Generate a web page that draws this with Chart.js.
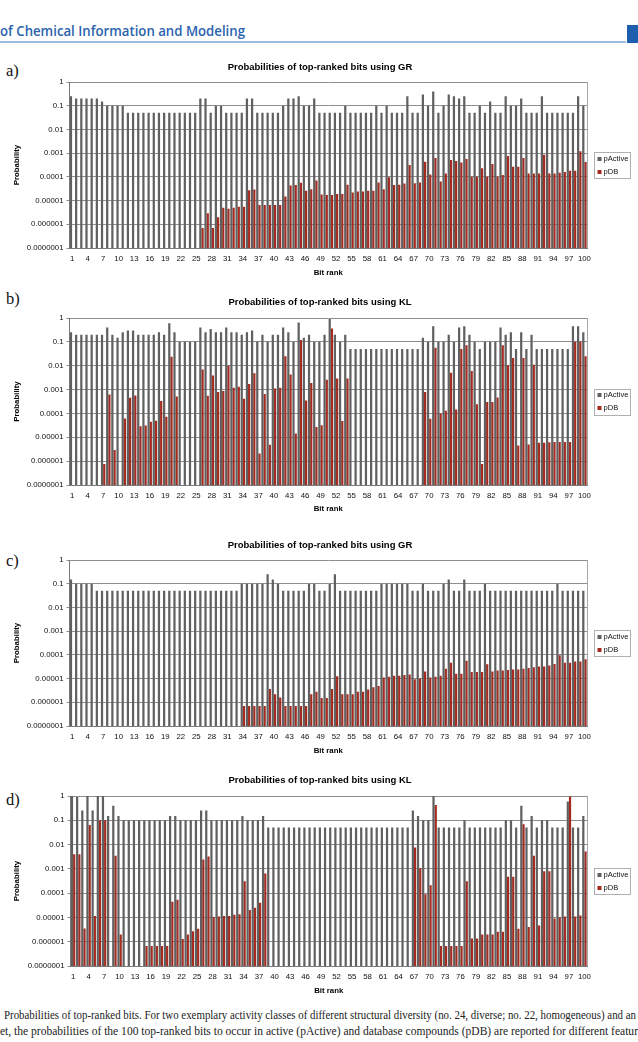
<!DOCTYPE html>
<html><head><meta charset="utf-8">
<script src="https://cdn.jsdelivr.net/npm/chart.js@4.4.1/dist/chart.umd.min.js"></script>
<style>
html,body{margin:0;padding:0;background:#fff}
body{width:638px;height:1042px;overflow:hidden;position:relative}
.t{position:absolute;white-space:nowrap;transform-origin:0 0;line-height:1.2}
.lab{font:16.5px "Liberation Serif";color:#111}
.cap{font:11.5px "Liberation Serif";color:#222}
canvas{position:absolute;left:0}
</style></head><body>
<div id="hdr" class="t" style="font:600 14px 'Open Sans';color:#2a62ad"><span class="fit">of Chemical Information and Modeling</span></div>
<div style="position:absolute;left:0;top:41px;width:626px;height:2px;background:#9cb9df"></div>
<div style="position:absolute;left:627px;top:25px;width:11px;height:18px;background:#1d5eae"></div>
<div id="la" class="t lab">a)</div>
<div id="lb" class="t lab">b)</div>
<div id="lc" class="t lab">c)</div>
<div id="ld" class="t lab">d)</div>
<canvas id="cA"></canvas>
<canvas id="cB"></canvas>
<canvas id="cC"></canvas>
<canvas id="cD"></canvas>
<div id="cap1" class="t cap"><span class="fit">Probabilities of top-ranked bits. For two exemplary activity classes of different structural diversity (no. 24, diverse; no. 22, homogeneous) and an</span></div>
<div id="cap2" class="t cap"><span class="fit">et, the probabilities of the 100 top-ranked bits to occur in active (pActive) and database compounds (pDB) are reported for different featur</span>e</div>
<script>
// ---------------- data ----------------
const bitRanks = Array.from({length:100}, (_, i) => String(i + 1));
const yTickValues = [1e-7, 1e-6, 1e-5, 1e-4, 1e-3, 1e-2, 1e-1, 1];
const yTickLabels = ['0.0000001','0.000001','0.00001','0.0001','0.001','0.01','0.1','1'];
const seriesNames = ['pActive', 'pDB'];
const titleGR = 'Probabilities of top-ranked bits using GR';
const titleKL = 'Probabilities of top-ranked bits using KL';
const xTitle = 'Bit rank';
const yTitle = 'Probability';

const pActiveA = [0.25,0.2,0.2,0.2,0.2,0.2,0.15,0.1,0.1,0.1,
 0.1,0.05,0.05,0.05,0.05,0.05,0.05,0.05,0.05,0.05,
 0.05,0.05,0.05,0.05,0.05,0.2,0.2,0.05,0.1,0.1,
 0.05,0.05,0.05,0.05,0.2,0.2,0.05,0.05,0.05,0.05,
 0.05,0.1,0.2,0.2,0.25,0.1,0.1,0.2,0.05,0.05,
 0.05,0.05,0.05,0.1,0.05,0.05,0.05,0.05,0.05,0.1,
 0.05,0.1,0.05,0.05,0.05,0.25,0.05,0.05,0.3,0.1,
 0.4,0.05,0.1,0.3,0.25,0.2,0.25,0.05,0.05,0.1,
 0.05,0.15,0.05,0.05,0.25,0.1,0.1,0.2,0.05,0.05,
 0.05,0.25,0.05,0.05,0.05,0.05,0.05,0.05,0.25,0.1];
const pDbA = [null,null,null,null,null,null,null,null,null,null,
 null,null,null,null,null,null,null,null,null,null,
 null,null,null,null,null,7e-7,2.9e-6,7e-7,2e-6,5e-6,
 4.5e-6,5e-6,5.5e-6,5.5e-6,2.7e-5,2.9e-5,6.5e-6,6.5e-6,6.5e-6,6.5e-6,
 6.5e-6,1.5e-5,4.3e-5,4.5e-5,5.7e-5,2.6e-5,3e-5,7e-5,1.8e-5,1.7e-5,
 1.7e-5,1.9e-5,1.9e-5,4.6e-5,2.2e-5,2.4e-5,2.4e-5,2.6e-5,2.6e-5,5.8e-5,
 3e-5,9.7e-5,4.5e-5,4.7e-5,5.2e-5,3.2e-4,5.4e-5,5.8e-5,4.3e-4,1.26e-4,
 6.2e-4,6.3e-5,1.4e-4,5.2e-4,4.7e-4,4e-4,5.6e-4,1e-4,1e-4,2.3e-4,
 1e-4,3.5e-4,1e-4,1.2e-4,7.5e-4,2.7e-4,2.7e-4,6.2e-4,1.4e-4,1.4e-4,
 1.4e-4,8.5e-4,1.4e-4,1.4e-4,1.5e-4,1.6e-4,1.8e-4,1.8e-4,1.2e-3,4.2e-4];

const pActiveB = [0.25,0.2,0.2,0.2,0.2,0.2,0.2,0.4,0.2,0.15,
 0.25,0.3,0.3,0.2,0.2,0.2,0.2,0.25,0.2,0.6,
 0.25,0.1,0.1,0.1,0.1,0.4,0.25,0.35,0.25,0.25,
 0.4,0.25,0.25,0.2,0.25,0.3,0.1,0.2,0.1,0.2,
 0.2,0.4,0.25,0.1,0.65,0.15,0.2,0.1,0.1,0.2,
 0.9,0.2,0.1,0.2,0.05,0.05,0.05,0.05,0.05,0.05,
 0.05,0.05,0.05,0.05,0.05,0.05,0.05,0.05,0.15,0.1,
 0.45,0.1,0.1,0.2,0.1,0.4,0.45,0.2,0.1,0.05,
 0.1,0.1,0.1,0.4,0.2,0.25,0.05,0.25,0.05,0.2,
 0.05,0.05,0.05,0.05,0.05,0.05,0.05,0.45,0.45,0.25];
const pDbB = [null,null,null,null,null,null,7.6e-7,6.2e-4,2.9e-6,null,
 6.2e-5,4.5e-4,5.6e-4,2.9e-5,3.1e-5,4.5e-5,4.9e-5,3.3e-4,7.2e-5,0.024,
 5.1e-4,null,null,null,null,7e-3,5.5e-4,3.9e-3,8e-4,8.8e-4,
 0.01,1.2e-3,1.3e-3,4.1e-4,1.7e-3,4.8e-3,2.1e-6,6.6e-4,4.9e-6,1.1e-3,
 1.2e-3,0.025,4.3e-3,1.45e-5,0.12,3.5e-4,1.9e-3,2.7e-5,3.2e-5,2.6e-3,
 0.36,2.9e-3,4.8e-5,2.9e-3,null,null,null,null,null,null,
 null,null,null,null,null,null,null,null,8e-4,6e-5,
 0.057,1e-4,1.3e-4,5.1e-3,1.45e-4,0.05,0.072,6e-3,2.4e-4,7.6e-7,
 3e-4,3e-4,4.6e-4,0.072,0.0105,0.021,4.5e-6,0.021,5e-6,0.011,
 5.9e-6,5.9e-6,6.2e-6,6.3e-6,6.3e-6,6.3e-6,6.3e-6,0.1,0.1,0.025];

const pActiveC = [0.15,0.1,0.1,0.1,0.1,0.05,0.05,0.05,0.05,0.05,
 0.05,0.05,0.05,0.05,0.05,0.05,0.05,0.05,0.05,0.05,
 0.05,0.05,0.05,0.05,0.05,0.05,0.05,0.05,0.05,0.05,
 0.05,0.05,0.05,0.1,0.1,0.1,0.1,0.1,0.25,0.15,
 0.1,0.05,0.05,0.05,0.05,0.05,0.1,0.1,0.05,0.05,
 0.1,0.25,0.05,0.05,0.05,0.05,0.05,0.05,0.05,0.05,
 0.1,0.1,0.1,0.1,0.1,0.1,0.05,0.05,0.1,0.05,
 0.05,0.05,0.1,0.15,0.05,0.05,0.15,0.05,0.05,0.05,
 0.1,0.05,0.05,0.05,0.05,0.05,0.05,0.05,0.05,0.05,
 0.05,0.05,0.05,0.05,0.1,0.05,0.05,0.05,0.05,0.05];
const pDbC = [null,null,null,null,null,null,null,null,null,null,
 null,null,null,null,null,null,null,null,null,null,
 null,null,null,null,null,null,null,null,null,null,
 null,null,null,7e-7,7e-7,7e-7,7e-7,7e-7,3.6e-6,2.2e-6,
 1.6e-6,7e-7,7e-7,7e-7,7e-7,7e-7,2.2e-6,2.8e-6,1.5e-6,1.5e-6,
 3.6e-6,1.26e-5,2.2e-6,2.2e-6,2.2e-6,2.8e-6,2.8e-6,3.5e-6,4.3e-6,4.9e-6,
 1.1e-5,1.2e-5,1.3e-5,1.3e-5,1.4e-5,1.5e-5,9.3e-6,1e-5,2e-5,1.1e-5,
 1.2e-5,1.3e-5,2.6e-5,4.6e-5,1.6e-5,1.6e-5,5.6e-5,1.9e-5,1.9e-5,1.9e-5,
 4e-5,2e-5,2.2e-5,2.2e-5,2.3e-5,2.4e-5,2.4e-5,2.6e-5,2.8e-5,3e-5,
 3.2e-5,3.2e-5,3.6e-5,4.1e-5,9.7e-5,4.6e-5,4.6e-5,5.2e-5,5.2e-5,6.6e-5];

const pActiveD = [1,0.9,0.25,1,0.25,1,1,0.15,0.4,0.15,
 0.1,0.1,0.1,0.1,0.1,0.1,0.1,0.1,0.1,0.15,
 0.15,0.1,0.1,0.1,0.1,0.25,0.25,0.1,0.1,0.1,
 0.1,0.1,0.1,0.15,0.1,0.1,0.1,0.15,0.05,0.05,
 0.05,0.05,0.05,0.05,0.05,0.05,0.05,0.05,0.05,0.05,
 0.05,0.05,0.05,0.05,0.05,0.05,0.05,0.05,0.05,0.05,
 0.05,0.05,0.05,0.05,0.05,0.05,0.25,0.15,0.1,0.1,
 1,0.05,0.05,0.05,0.05,0.05,0.1,0.05,0.05,0.05,
 0.05,0.05,0.05,0.05,0.1,0.1,0.05,0.4,0.05,0.15,
 0.05,0.1,0.1,0.05,0.05,0.05,0.6,0.05,0.05,0.15];
const pDbD = [4e-3,4e-3,3.5e-6,0.064,1.15e-5,0.1,0.1,null,3.5e-3,2e-6,
 null,null,null,null,6.6e-7,6.6e-7,6.6e-7,6.6e-7,6.6e-7,4.4e-5,
 5.3e-5,1.3e-6,2e-6,2.7e-6,3.4e-6,2.4e-3,3.2e-3,1.05e-5,1.1e-5,1.15e-5,
 1.15e-5,1.3e-5,1.35e-5,3.1e-4,2e-5,2.5e-5,4e-5,6.5e-4,null,null,
 null,null,null,null,null,null,null,null,null,null,
 null,null,null,null,null,null,null,null,null,null,
 null,null,null,null,null,null,7.6e-3,1.05e-3,9e-5,2.1e-4,
 0.43,6.6e-7,6.6e-7,6.6e-7,6.6e-7,6.6e-7,3.1e-4,1.35e-6,1.35e-6,2e-6,
 2e-6,2e-6,2.6e-6,2.6e-6,4.7e-4,4.7e-4,3.4e-6,0.068,4e-6,3.5e-3,
 4.7e-6,8e-4,8e-4,9e-6,1e-5,1.1e-5,0.95,1.1e-5,1.2e-5,5.2e-3];

// ---------------- layout / style ----------------
const GRAY = '#606060', RED = '#a52b20';
const panels = [
  {id:'cA', title:titleGR, act:pActiveA, db:pDbA, plotTop:82, plotBottom:248, plotLeft:69.5, titleY:67.5, rankY:273},
  {id:'cB', title:titleKL, act:pActiveB, db:pDbB, plotTop:318, plotBottom:485, plotLeft:69.5, titleY:302, rankY:509},
  {id:'cC', title:titleGR, act:pActiveC, db:pDbC, plotTop:560, plotBottom:726, plotLeft:69.5, titleY:545, rankY:751},
  {id:'cD', title:titleKL, act:pActiveD, db:pDbD, plotTop:796, plotBottom:966, plotLeft:70.5, titleY:780, rankY:991}
];
const PAD_TOP = 32, X_AXIS_H = 32, PLOT_RIGHT = 587, W = 638;
const FONT = '"Liberation Sans", Arial, sans-serif';
Chart.defaults.font.family = FONT;
Chart.defaults.color = '#111';

function makeDecor(spec, canvasTop){
  return {
    id:'decor',
    afterDraw(chart){
      const ctx = chart.ctx, a = chart.chartArea;
      ctx.save();
      ctx.strokeStyle = '#a8a8a8'; ctx.lineWidth = 1;
      const rx = Math.round(a.right) + 0.5;
      ctx.beginPath(); ctx.moveTo(rx, a.top); ctx.lineTo(rx, a.bottom); ctx.stroke();
      ctx.fillStyle = '#000';
      ctx.textAlign = 'center'; ctx.textBaseline = 'middle';
      ctx.font = 'bold 9.5px ' + FONT;
      ctx.fillText(spec.title, 320, spec.titleY - canvasTop);
      ctx.font = 'bold 7.8px ' + FONT;
      ctx.fillText(xTitle, (a.left + a.right) / 2, spec.rankY - canvasTop);
      ctx.save();
      ctx.translate(17, (a.top + a.bottom) / 2); ctx.rotate(-Math.PI / 2);
      ctx.fillText(yTitle, 0, 0);
      ctx.restore();
      // legend
      const cy = (a.top + a.bottom) / 2;
      ctx.strokeStyle = '#b0b0b0';
      ctx.strokeRect(594.5, Math.round(cy - 13) + 0.5, 36, 26);
      ctx.font = '7.6px ' + FONT; ctx.textAlign = 'left';
      chart.data.datasets.forEach((ds, i) => {
        const yy = cy + (i === 0 ? -6.5 : 6.5);
        ctx.fillStyle = ds.backgroundColor;
        ctx.fillRect(597.5, Math.round(yy - 2), 4, 4);
        ctx.fillStyle = '#111';
        ctx.fillText(ds.label, 603.5, yy);
      });
      ctx.restore();
    }
  };
}

panels.forEach(spec => {
  const cv = document.getElementById(spec.id);
  const top = spec.plotTop - PAD_TOP;
  const h = spec.plotBottom - spec.plotTop + PAD_TOP + X_AXIS_H;
  cv.width = W; cv.height = h;
  cv.style.top = top + 'px'; cv.style.width = W + 'px'; cv.style.height = h + 'px';
  new Chart(cv, {
    type:'bar',
    data:{
      labels: bitRanks,
      datasets:[
        {label: seriesNames[0], data: spec.act, backgroundColor: GRAY, borderWidth:0, categoryPercentage:0.86, barPercentage:1},
        {label: seriesNames[1], data: spec.db, backgroundColor: RED, borderWidth:0, categoryPercentage:0.86, barPercentage:1}
      ]
    },
    options:{
      responsive:false, animation:false, devicePixelRatio:1,
      layout:{padding:{left:0, right:W - PLOT_RIGHT, top:PAD_TOP, bottom:0}},
      plugins:{legend:{display:false}, title:{display:false}, tooltip:{enabled:false}},
      scales:{
        x:{
          grid:{display:false, drawTicks:false},
          border:{display:true, color:'#7a7a7a'},
          ticks:{autoSkip:false, maxRotation:0, minRotation:0, padding:6,
                 font:{size:7.8}, color:'#111',
                 callback:(v, i) => (i % 3 === 0 ? bitRanks[i] : '')},
          afterFit:s => { s.height = X_AXIS_H; }
        },
        y:{
          type:'logarithmic', min:1e-7, max:1,
          afterBuildTicks: ax => { ax.ticks = yTickValues.map(v => ({value:v})); },
          grid:{color:'#8e8e8e', tickLength:3, drawTicks:true},
          border:{display:true, color:'#7a7a7a'},
          ticks:{padding:3, font:{size:7.8}, color:'#111',
                 callback:(v) => yTickLabels[yTickValues.indexOf(v)]},
          afterFit:s => { s.width = spec.plotLeft; }
        }
      }
    },
    plugins:[makeDecor(spec, top)]
  });
});

// ---------------- page texts ----------------
function placeText(id, x, baseline, fitWidth){
  const el = document.getElementById(id);
  el.style.left = x + 'px'; el.style.top = '0px'; el.style.transform = 'none';
  const probe = document.createElement('span');
  probe.style.cssText = 'display:inline-block;width:0;height:0;vertical-align:baseline';
  el.appendChild(probe);
  const b = probe.getBoundingClientRect().top - el.getBoundingClientRect().top;
  el.removeChild(probe);
  el.style.top = (baseline - b) + 'px';
  if (fitWidth){
    const f = el.querySelector('.fit');
    const w = f.getBoundingClientRect().width;
    el.style.transform = 'scaleX(' + (fitWidth / w) + ')';
  }
}
function layoutTexts(){
  placeText('hdr', 0, 35.7, 245);
  placeText('la', 6, 75.5);
  placeText('lb', 6, 303.5);
  placeText('lc', 6, 565.5);
  placeText('ld', 6, 804.5);
  placeText('cap1', 4, 1019, 632);
  placeText('cap2', 0, 1035, 638);
}
layoutTexts();
if (document.fonts && document.fonts.ready) document.fonts.ready.then(layoutTexts);
</script>
</body></html>
